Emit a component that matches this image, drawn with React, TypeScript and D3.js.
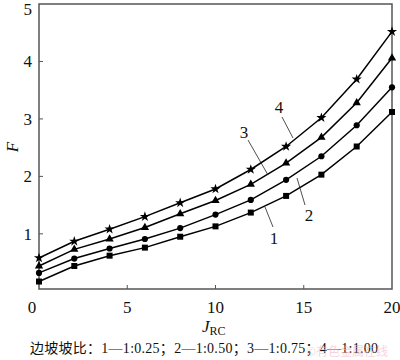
import React from "react";
import * as d3 from "d3";

const jrc = [0, 2, 4, 6, 8, 10, 12, 14, 16, 18, 20];
const series1 = [0.17, 0.44, 0.62, 0.76, 0.95, 1.13, 1.37, 1.66, 2.03, 2.52, 3.12];
const series2 = [0.32, 0.57, 0.745, 0.91, 1.1, 1.335, 1.59, 1.94, 2.35, 2.89, 3.55];
const series3 = [0.44, 0.73, 0.91, 1.11, 1.35, 1.58, 1.86, 2.23, 2.68, 3.28, 4.06];
const series4 = [0.58, 0.87, 1.08, 1.3, 1.54, 1.78, 2.12, 2.52, 3.02, 3.69, 4.52];
const xTicks = [5, 10, 15, 20];
const yTicks = [1, 2, 3, 4, 5];
const caption = "边坡坡比：1—1:0.25；2—1:0.50；3—1:0.75；4—1:1.00";

const W = 400;
const H = 360;
const x = d3.scaleLinear().domain([0, 20]).range([39, 392]);
const y = d3.scaleLinear().domain([0.04, 5]).range([289, 4]);

const serif = "Liberation Serif, Times New Roman, serif";
const cjk = "Liberation Serif, Noto Sans CJK SC, serif";

const seriesList = [
  { data: series1, symbol: d3.symbolSquare, size: 36, label: "1", lab: [274, 238], l1: [265, 207], l2: [273, 227] },
  { data: series2, symbol: d3.symbolCircle, size: 30, label: "2", lab: [309, 215], l1: [297, 178], l2: [305, 205] },
  { data: series3, symbol: d3.symbolTriangle, size: 30, label: "3", lab: [244, 132], l1: [248, 140], l2: [268, 175] },
  { data: series4, symbol: d3.symbolStar, size: 32, label: "4", lab: [279, 107], l1: [282, 117], l2: [293, 138] },
];

export default function App() {
  const line = d3
    .line<number>()
    .x((_, i) => x(jrc[i]))
    .y((d) => y(d));
  const x0 = x(0), x1 = x(20), yb = y(0.04), yt = y(5);
  return (
    <svg width={W} height={H} style={{ position: "absolute", left: 0, top: 0, background: "#fff" }}>
      <rect x={0} y={0} width={W} height={H} fill="#fff" />
      {/* frame */}
      <rect x={x0} y={yt} width={x1 - x0} height={yb - yt} fill="none" stroke="#555" strokeWidth={1.5} />
      {/* y ticks */}
      {yTicks.map((t) => (
        <g key={"y" + t}>
          {t < 5 && <line x1={x0} x2={x0 + 4} y1={y(t)} y2={y(t)} stroke="#555" strokeWidth={1} />}
          <text x={x0 - 7} y={t === 5 ? y(t) + 5 : y(t)} dy="0.35em" textAnchor="end" fontFamily={serif} fontSize={17} fill="#111">
            {t}
          </text>
        </g>
      ))}
      {/* x ticks */}
      {xTicks.map((t) => (
        <g key={"x" + t}>
          {t < 20 && <line x1={x(t)} x2={x(t)} y1={yb} y2={yb - 4} stroke="#555" strokeWidth={1} />}
          <text x={x(t)} y={yb + 24} textAnchor="middle" fontFamily={serif} fontSize={17} fill="#111">
            {t}
          </text>
        </g>
      ))}
      <text x={x0 - 7} y={yb + 24} textAnchor="middle" fontFamily={serif} fontSize={17} fill="#111">
        0
      </text>
      {/* axis labels */}
      <text x={12} y={147} dy="0.35em" textAnchor="middle" fontFamily={serif} fontStyle="italic" fontSize={17} fill="#111" transform="rotate(-90 12 147)">
        F
      </text>
      <text x={202} y={332} fontFamily={serif} fontSize={17} fill="#111">
        <tspan fontStyle="italic">J</tspan>
        <tspan fontSize={12} dy={3}>RC</tspan>
      </text>
      {/* series */}
      {seriesList.map((s, k) => (
        <g key={"s" + k}>
          <path d={line(s.data) || ""} fill="none" stroke="#000" strokeWidth={1.5} />
          {s.data.map((v, i) => (
            <path
              key={i}
              d={d3.symbol().type(s.symbol).size(s.size)() || ""}
              transform={`translate(${x(jrc[i])},${y(v)})`}
              fill="#000"
            />
          ))}
          <line x1={s.l1[0]} y1={s.l1[1]} x2={s.l2[0]} y2={s.l2[1]} stroke="#222" strokeWidth={0.8} />
          <text x={s.lab[0]} y={s.lab[1]} dy="0.35em" textAnchor="middle" fontFamily={serif} fontSize={17} fill="#111">
            {s.label}
          </text>
        </g>
      ))}
      {/* caption */}
      <text x={30} y={353} fontFamily={cjk} fontSize={14} fill="#111" textLength={348} lengthAdjust="spacing">
        {caption}
      </text>
      <text x={306} y={356} fontFamily="Noto Sans CJK SC, sans-serif" fontSize={12} fill="#f2b8c4" opacity={0.6}>
        ©有色金属在线
      </text>
    </svg>
  );
}
